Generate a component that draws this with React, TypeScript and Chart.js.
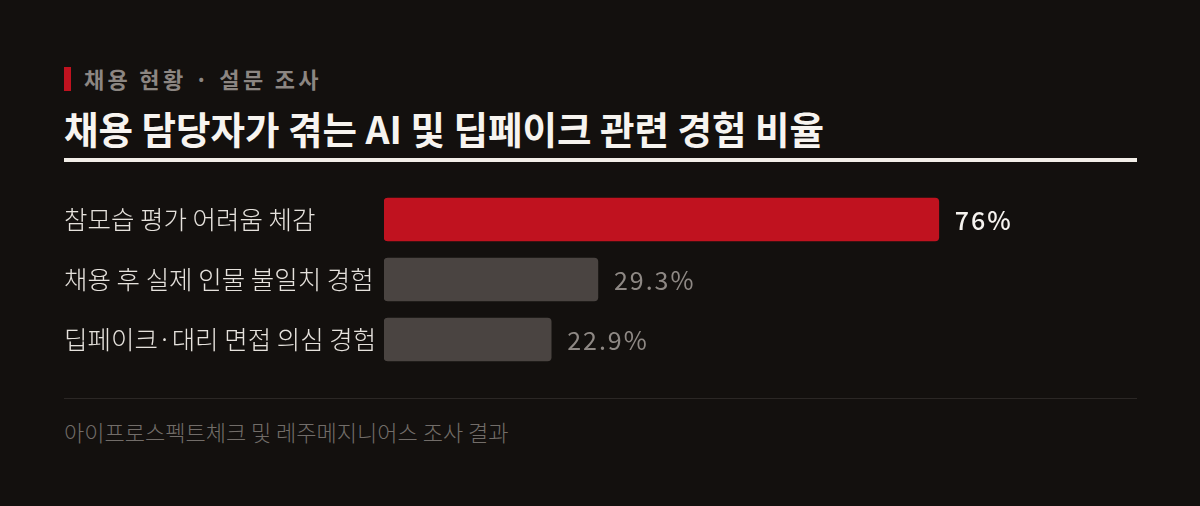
import React, { useEffect, useRef } from "react";
import { Chart, registerables } from "chart.js";

Chart.register(...registerables);

const kicker = "채용 현황 · 설문 조사";
const title = "채용 담당자가 겪는 AI 및 딥페이크 관련 경험 비율";
const categories = [
  "참모습 평가 어려움 체감",
  "채용 후 실제 인물 불일치 경험",
  "딥페이크·대리 면접 의심 경험",
];
const values = [76, 29.3, 22.9];
const source = "아이프로스펙트체크 및 레주메지니어스 조사 결과";

const BG = "#13100e";
const RED = "#c0121f";
const GRAY_BAR = "#4a4441";
const FONT = "'Noto Sans CJK KR', 'Noto Sans', sans-serif";

const valueLabels = {
  id: "valueLabels",
  afterDatasetsDraw(chart: any) {
    const ctx = chart.ctx;
    const meta = chart.getDatasetMeta(0);
    ctx.save();
    meta.data.forEach((bar: any, i: number) => {
      const v = chart.data.datasets[0].data[i];
      const top = i === 0;
      ctx.font = `${top ? 500 : 400} 25px ${FONT}`;
      ctx.fillStyle = top ? "#f6f3ef" : "#8e8884";
      try {
        (ctx as any).letterSpacing = "2px";
      } catch (e) {}
      ctx.textAlign = "left";
      ctx.textBaseline = "middle";
      ctx.fillText(`${v}%`, bar.x + 16, bar.y + 1);
    });
    ctx.restore();
  },
};

export default function App() {
  const ref = useRef<HTMLCanvasElement>(null);
  useEffect(() => {
    document.body.style.margin = "0";
    document.body.style.background = BG;
    const chart = new Chart(ref.current!, {
      type: "bar",
      data: {
        labels: categories,
        datasets: [
          {
            data: values,
            backgroundColor: values.map((_, i) => (i === 0 ? RED : GRAY_BAR)),
            borderRadius: 4,
            borderSkipped: false,
            barThickness: 43,
          },
        ],
      },
      options: {
        indexAxis: "y",
        animation: false,
        responsive: false,
        maintainAspectRatio: false,
        layout: { padding: { top: 15.5, bottom: 15.5, right: 23, left: 0 } },
        plugins: { legend: { display: false }, tooltip: { enabled: false } },
        scales: {
          x: { display: false, min: 0, max: 100 },
          y: {
            border: { display: false },
            grid: { display: false, drawTicks: false },
            ticks: {
              crossAlign: "far",
              padding: 0,
              color: "#e6e2dd",
              font: { family: FONT, size: 25.5, weight: 300 as any },
            },
            afterFit(scale: any) {
              scale.width = 320;
            },
          },
        },
      },
      plugins: [valueLabels],
    });
    return () => chart.destroy();
  }, []);

  return (
    <div
      style={{
        position: "relative",
        width: 1200,
        height: 506,
        background: BG,
        overflow: "hidden",
        fontFamily: FONT,
      }}
    >
      <div style={{ position: "absolute", left: 64, top: 67, width: 7, height: 24, background: RED }} />
      <div
        style={{
          position: "absolute",
          left: 84,
          top: 62,
          height: 32,
          lineHeight: "32px",
          fontSize: 22,
          fontWeight: 700,
          letterSpacing: 3.3,
          color: "#8c8682",
          whiteSpace: "nowrap",
        }}
      >
        {kicker}
      </div>
      <div
        style={{
          position: "absolute",
          left: 64,
          top: 106,
          height: 44,
          lineHeight: "44px",
          fontSize: 37.5,
          fontWeight: 700,
          color: "#f7f4f0",
          whiteSpace: "nowrap",
        }}
      >
        {title}
      </div>
      <div style={{ position: "absolute", left: 64, top: 158, width: 1073, height: 4, background: "#f2eee8" }} />
      <canvas
        ref={ref}
        width={1073}
        height={211}
        style={{ position: "absolute", left: 64, top: 174, width: 1073, height: 211 }}
      />
      <div style={{ position: "absolute", left: 64, top: 398, width: 1073, height: 1, background: "#2b2725" }} />
      <div
        style={{
          position: "absolute",
          left: 64,
          top: 416,
          height: 30,
          lineHeight: "30px",
          fontSize: 22,
          fontWeight: 300,
          color: "#726d69",
          whiteSpace: "nowrap",
        }}
      >
        {source}
      </div>
    </div>
  );
}
